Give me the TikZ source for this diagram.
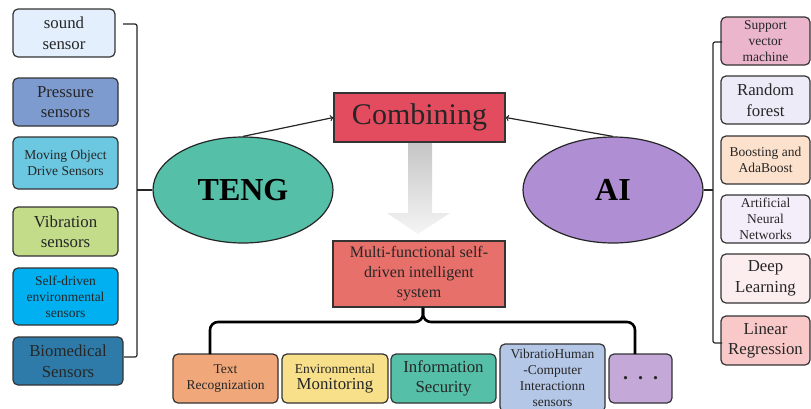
\documentclass[tikz,border=0pt]{standalone}
\usepackage{fontspec}
\setmainfont{Liberation Serif}
\usetikzlibrary{shapes.geometric}
\newcommand{\fsS}{\fontsize{13.5}{16}\selectfont}
\newcommand{\fsM}{\fontsize{16.8}{20.5}\selectfont}
\definecolor{cSound}{HTML}{E3EFFC}
\definecolor{cPress}{HTML}{7E9BD0}
\definecolor{cMoving}{HTML}{6CC7E0}
\definecolor{cVib}{HTML}{C3DC8A}
\definecolor{cSelf}{HTML}{00B0F0}
\definecolor{cBio}{HTML}{2E7BAA}
\definecolor{cTeng}{HTML}{55BFA8}
\definecolor{cAI}{HTML}{AF8ED3}
\definecolor{cComb}{HTML}{E34B5E}
\definecolor{cMulti}{HTML}{E8706B}
\definecolor{cText}{HTML}{F0A77A}
\definecolor{cEnv}{HTML}{F8E08A}
\definecolor{cVibHum}{HTML}{B4C7E7}
\definecolor{cDots}{HTML}{C4A8D8}
\definecolor{cSvm}{HTML}{EBB6CC}
\definecolor{cRf}{HTML}{EDEBF8}
\definecolor{cBoost}{HTML}{FCE1CC}
\definecolor{cAnn}{HTML}{F4EEFB}
\definecolor{cDeep}{HTML}{FCEEEE}
\definecolor{cLin}{HTML}{F9C8C8}
\begin{document}
\begin{tikzpicture}[x=1pt,y=-1pt,
    box/.style={draw=black!80, line width=1.2pt, rounded corners=5pt, align=center,
      inner sep=1pt, text=black!85, minimum width=105pt, minimum height=49pt},
    blob/.style={ellipse, draw=black!85, line width=1.2pt, minimum width=180pt,
      minimum height=106pt, font=\fontsize{32}{36}\selectfont\bfseries},
    redbox/.style={draw=black!80, line width=1.2pt, align=center, inner sep=1pt, text=black!85},
    link/.style={line width=1.2pt, draw=black!85}]
    \useasboundingbox[fill=white] (0,0) rectangle (811,408);

    % TENG side
    \node[box, fill=cSound, minimum width=102pt, minimum height=48pt, font=\fsM] (sound) at (64,33) {sound\\sensor};
    \node[box, fill=cPress, minimum height=48pt, font=\fsM] (press) at (65.5,102) {Pressure\\sensors};
    \node[box, fill=cMoving, minimum height=52pt, font=\fsS] (moving) at (65.5,163) {Moving Object\\Drive Sensors};
    \node[box, fill=cVib, font=\fsM] (vib) at (65.5,231.5) {Vibration\\sensors};
    \node[box, fill=cSelf, minimum height=57pt, font=\fsS] (selfdr) at (65.5,296.5) {Self-driven\\environmental\\sensors};
    \node[box, fill=cBio, minimum width=110pt, minimum height=48pt, font=\fsM] (bio) at (68,361) {Biomedical\\Sensors};
    \node[blob, fill=cTeng] (teng) at (243,190) {TENG};

    % AI side
    \node[box, fill=cSvm, minimum width=89pt, minimum height=48pt, font=\fsS] (svm) at (765.5,41) {Support\\vector\\machine};
    \node[box, fill=cRf, minimum width=89pt, minimum height=48pt, font=\fsM] (rf) at (765.5,100) {Random\\forest};
    \node[box, fill=cBoost, minimum width=89pt, minimum height=48pt, font=\fsS] (boost) at (765.5,160) {Boosting and\\AdaBoost};
    \node[box, fill=cAnn, minimum width=89pt, minimum height=48pt, font=\fsS] (ann) at (765.5,219) {Artificial\\Neural\\Networks};
    \node[box, fill=cDeep, minimum width=89pt, font=\fsM] (deep) at (765.5,278.5) {Deep\\Learning};
    \node[box, fill=cLin, minimum width=89pt, font=\fsM] (linreg) at (765.5,340.5) {Linear\\Regression};
    \node[blob, fill=cAI] (ai) at (613,190) {AI};

    % middle
    \node[redbox, fill=cComb, minimum width=171pt, minimum height=49pt,
      font=\fontsize{30}{34}\selectfont] (comb) at (419.5,117.5) {Combining};
    \node[redbox, fill=cMulti, minimum width=172pt, minimum height=66pt,
      font=\fontsize{16}{20}\selectfont] (multi) at (419,274) {Multi-functional self-\\driven intelligent\\system};
    \shade[top color=gray!45, bottom color=gray!8]
      (408,143) -- (432,143) -- (432,213) -- (450,213) -- (418,234) -- (387,213) -- (408,213) -- cycle;

    % applications
    \node[box, fill=cText, font=\fsS] (textrec) at (225.5,378.5) {Text\\Recognization};
    \node[box, fill=cEnv, minimum width=106pt, font=\fsS] (envmon) at (335,378.5) {Environmental\\{\fsM Monitoring}};
    \node[box, fill=cTeng, font=\fsM] (infosec) at (443.5,378.5) {Information\\Security};
    \node[box, fill=cVibHum, minimum height=68pt, font=\fsS] (vibhum) at (552.5,378) {VibratioHuman\\-Computer\\Interactionn\\sensors};
    \node[box, fill=cDots, minimum width=63pt, font=\fontsize{20}{24}\selectfont\bfseries] (dots) at (640.5,378.5) {.\ \ .\ \ .};

    % brackets
    \coordinate (lbtop) at (123,24);
    \coordinate (lbbot) at (124,357);
    \coordinate (lbmid) at (137,190);
    \draw[link, rounded corners=2pt] (lbtop) -- (137,24) -- (137,357) -- (lbbot);
    \draw[link] (lbmid) -- (teng.west);
    \coordinate (rbtop) at (722,42);
    \coordinate (rbbot) at (722,343);
    \coordinate (rbmid) at (713,190);
    \draw[link, rounded corners=2pt] (rbtop) -- (713,42) -- (713,343) -- (rbbot);
    \draw[link] (rbmid) -- (ai.east);
    \coordinate (bl) at (210,354);
    \coordinate (br) at (635,354);
    \draw[line width=2.6pt, rounded corners=8pt] (bl) -- (210,322) -- (423,322) -- (multi.south -| 423,0);
    \draw[line width=2.6pt, rounded corners=8pt] (br) -- (635,322) -- (423,322) -- (multi.south -| 423,0);

    % arrows into Combining
    \draw[link, ->] (teng.north) -- (comb.west);
    \draw[link, ->] (ai.north) -- (comb.east);
\end{tikzpicture}
\end{document}
